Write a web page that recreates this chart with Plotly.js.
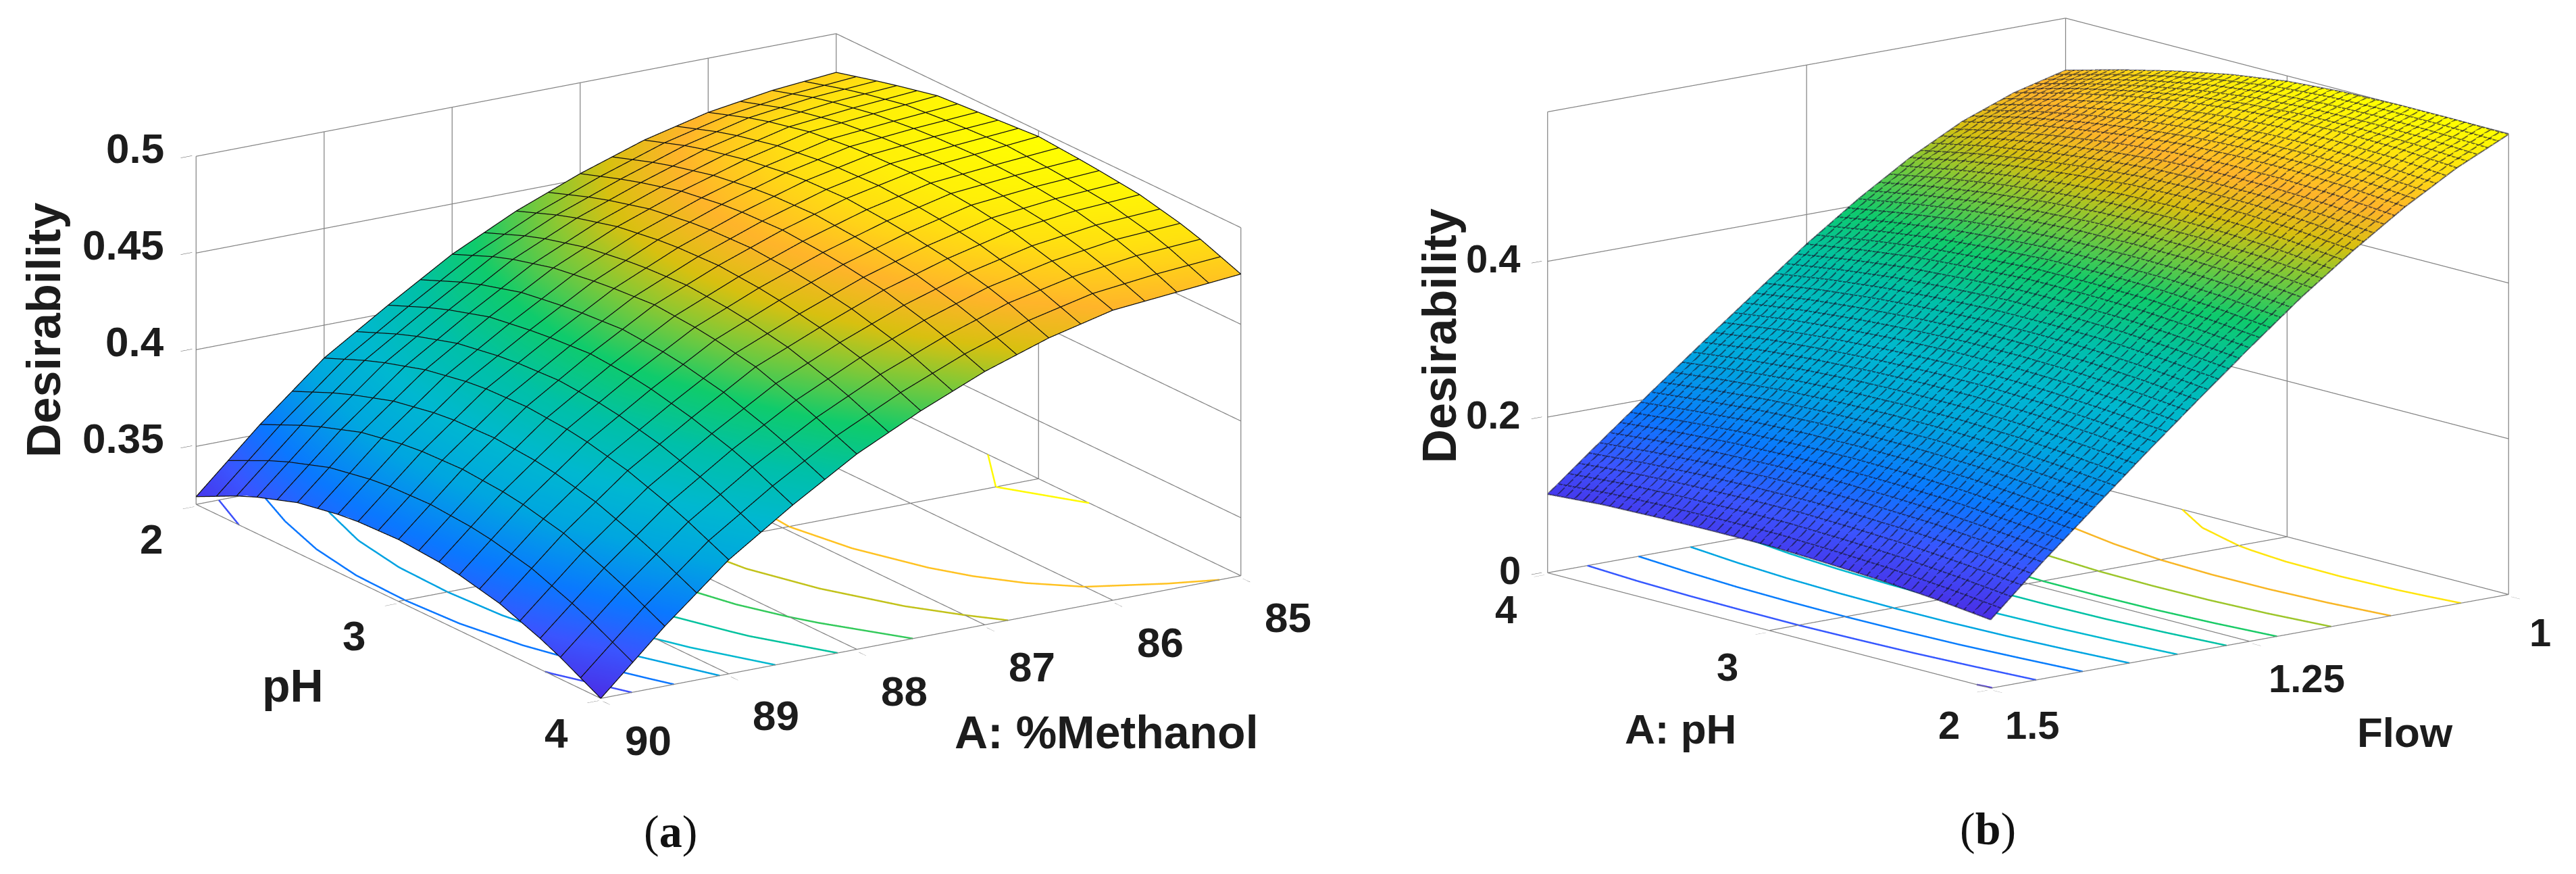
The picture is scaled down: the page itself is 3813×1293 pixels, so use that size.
<!DOCTYPE html>
<html>
<head>
<meta charset="utf-8">
<script src="https://cdn.plot.ly/plotly-3.0.1.min.js"></script>
<style>html,body{margin:0;padding:0;background:#fff}#chart{width:3813px;height:1293px}</style>
</head>
<body>
<div id="chart"></div>
<script>
// panel (a): desirability, rows = %methanol, columns = pH
let methanol_a = [85, 85.5, 86, 86.5, 87, 87.5, 88, 88.5, 89, 89.5, 90];
let ph_a = [2, 2.25, 2.5, 2.75, 3, 3.25, 3.5, 3.75, 4];
let desirability_a = [
	[.480, .487, .493, .495, .497, .495, .492, .486, .476],
	[.477, .485, .490, .493, .494, .493, .490, .484, .473],
	[.472, .481, .487, .490, .491, .490, .486, .479, .470],
	[.464, .473, .479, .483, .484, .482, .478, .472, .462],
	[.453, .462, .469, .473, .474, .472, .468, .461, .451],
	[.440, .450, .457, .461, .462, .460, .455, .448, .437],
	[.424, .435, .442, .446, .448, .446, .441, .432, .421],
	[.404, .415, .423, .427, .429, .427, .421, .413, .401],
	[.383, .394, .402, .407, .408, .406, .400, .391, .379],
	[.355, .367, .376, .381, .382, .380, .374, .364, .351],
	[.324, .337, .346, .351, .352, .350, .344, .334, .320]
];
let methanol_ticks = [85, 86, 87, 88, 89, 90];
let ph_ticks_a = [2, 3, 4];
let z_ticks_a = [0.32, 0.35, 0.4, 0.45, 0.5];
let z_labels_a = ['', '0.35', '0.4', '0.45', '0.5'];
let levels_a = [0.335, 0.355, 0.375, 0.395, 0.415, 0.435, 0.455, 0.475, 0.495];

// panel (b): desirability, rows = flow, columns = pH
let flow_b = [1, 1.05, 1.1, 1.15, 1.2, 1.25, 1.3, 1.35, 1.4, 1.45, 1.5];
let ph_b = [2, 2.25, 2.5, 2.75, 3, 3.25, 3.5, 3.75, 4];
let desirability_b = [
	[.591, .592, .592, .590, .585, .575, .561, .544, .525],
	[.560, .565, .567, .566, .561, .553, .541, .526, .508],
	[.522, .528, .531, .531, .528, .521, .511, .499, .483],
	[.478, .485, .489, .490, .488, .482, .474, .463, .449],
	[.430, .437, .441, .442, .441, .437, .430, .420, .408],
	[.377, .384, .389, .391, .391, .387, .382, .373, .362],
	[.322, .329, .334, .336, .336, .333, .328, .321, .311],
	[.266, .273, .278, .281, .281, .279, .275, .269, .260],
	[.208, .215, .221, .224, .225, .224, .221, .215, .208],
	[.150, .157, .163, .166, .168, .167, .165, .161, .155],
	[.088, .096, .102, .106, .109, .109, .108, .106, .101]
];
let flow_ticks = [1, 1.25, 1.5];
let ph_ticks_b = [2, 3, 4];
let z_ticks_b = [0, 0.2, 0.4, 0.592];
let z_labels_b = ['0', '0.2', '0.4', ''];
let levels_b = [0.09, 0.1425, 0.195, 0.2475, 0.3, 0.3525, 0.405, 0.4575, 0.51, 0.5625];

let colors = [
	[0, '#4a2fe6'], [0.1, '#3a55ff'], [0.2, '#0a78ff'], [0.32, '#00a6e0'], [0.42, '#00b8d0'], [0.52, '#00c0a8'],
	[0.62, '#0fcb6c'], [0.72, '#8cc832'], [0.78, '#d8c010'], [0.85, '#ffb42a'], [0.93, '#ffe010'], [1, '#ffff00']
];

let flat = {ambient: 1, diffuse: 0, specular: 0, roughness: 1, fresnel: 0};

let axis = function(range, ticks, labels){
	// only labelled ticks get a tick mark, the box corners stay clean
	let text = labels || ticks.map(String);
	return {
		range: range,
		tickmode: 'array',
		tickvals: ticks.filter(function(_, i){ return text[i] !== ''; }),
		ticktext: text.filter(function(t){ return t !== ''; }),
		showticklabels: false,
		ticks: 'outside',
		ticklen: 20,
		tickcolor: '#555',
		showgrid: false,
		showline: false,
		zeroline: false,
		showbackground: false,
		showspikes: false,
		title: {text: ''}
	};
};

// small helper: text tied to a point of the scene, then pushed off it
let label = function(x, y, z, text, dx, dy, size, bold, angle, anchor){
	return {
		x: x, y: y, z: z,
		text: bold ? '<b>' + text + '</b>' : text,
		showarrow: false,
		xshift: dx, yshift: dy,
		xanchor: anchor || 'center',
		textangle: angle || 0,
		font: {family: 'Liberation Sans, Arial, sans-serif', size: size, color: '#1c1c1c'}
	};
};

let notes_a = [];
ph_ticks_a.forEach(function(p){ notes_a.push(label(90, p, 0.32, String(p), -66, -51, 62, true)); });
methanol_ticks.forEach(function(m){ notes_a.push(label(m, 4, 0.32, String(m), 70, -62, 62, true)); });
z_labels_a.forEach(function(t, i){
	if(t) notes_a.push(label(90, 2, z_ticks_a[i], t, -45, 12, 62, true, 0, 'right'));
});
notes_a.push(label(90, 3, 0.32, 'pH', -156, -124, 68, true));
notes_a.push(label(87.5, 4, 0.32, 'A: %Methanol', 275, -141, 68, true));
notes_a.push(label(90, 2, 0.41, 'Desirability', -226, 0, 70, true, -90));

let notes_b = [];
ph_ticks_b.forEach(function(p){ notes_b.push(label(p, 1.5, 0, String(p), -62, -54, 58, true)); });
notes_b.push(label(2, 1.5, 0, '1.5', 62, -54, 58, true));
notes_b.push(label(2, 1.25, 0, '1.25', 85, -55, 58, true));
notes_b.push(label(2, 1, 0, '1', 47, -56, 58, true));
z_labels_b.forEach(function(t, i){
	if(t) notes_b.push(label(4, 1.5, z_ticks_b[i], t, -38, 4, 58, true, 0, 'right'));
});
notes_b.push(label(3, 1.5, 0, 'A: pH', -131, -146, 62, true));
notes_b.push(label(2, 1.25, 0, 'Flow', 230, -135, 62, true));
notes_b.push(label(4, 1.5, 0.3, 'Desirability', -160, 5, 70, true, -90));

// even steps between two values, for the mesh lines
let steps = function(from, to, n){
	let out = [];
	for(let i = 0; i <= n; i++) out.push(from + (to - from) * i / n);
	return out;
};

// table value at any row/column position
let valueAt = function(rows, cols, table, r, c){
	let i = 0, j = 0;
	while(i < rows.length - 2 && rows[i + 1] <= r) i++;
	while(j < cols.length - 2 && cols[j + 1] <= c) j++;
	let a = (r - rows[i]) / (rows[i + 1] - rows[i]);
	let b = (c - cols[j]) / (cols[j + 1] - cols[j]);
	return table[i][j] * (1 - a) * (1 - b) + table[i + 1][j] * a * (1 - b) +
		table[i][j + 1] * (1 - a) * b + table[i + 1][j + 1] * a * b;
};

// gl contour lines stay 1px wide here, so the mesh is drawn as 3d lines,
// nudged toward the camera (lift) so the surface does not swallow them
let meshTrace = function(scene, rows, cols, table, rowLines, colLines, swap, lift, color, width, opacity){
	let x = [], y = [], z = [];
	let add = function(r, c){
		x.push((swap ? c : r) + lift[0]);
		y.push((swap ? r : c) + lift[1]);
		z.push(valueAt(rows, cols, table, r, c) + lift[2]);
	};
	let gap = function(){ x.push(null); y.push(null); z.push(null); };
	rowLines.forEach(function(r){
		colLines.forEach(function(c){ add(r, c); });
		gap();
	});
	colLines.forEach(function(c){
		rowLines.forEach(function(r){ add(r, c); });
		gap();
	});
	return {type: 'scatter3d', scene: scene, mode: 'lines', x: x, y: y, z: z, opacity: opacity,
		line: {color: color, width: width}, hoverinfo: 'skip', showlegend: false};
};

// level line of the table, projected on the floor of the box
let contourTrace = function(scene, rows, cols, table, level, floor, swap, cmin, cmax){
	let x = [], y = [], z = [];
	let point = function(r, c){
		x.push(swap ? c : r);
		y.push(swap ? r : c);
		z.push(floor);
	};
	let differs = function(v0, v1){
		return (v0 >= level) !== (v1 >= level);
	};
	let cross = function(v0, v1, p0, p1){
		return p0 + (p1 - p0) * (level - v0) / (v1 - v0);
	};
	for(let i = 0; i < rows.length - 1; i++){
		for(let j = 0; j < cols.length - 1; j++){
			let a = table[i][j], b = table[i][j + 1], c = table[i + 1][j + 1], d = table[i + 1][j];
			let hits = [];
			if(differs(a, b)) hits.push([rows[i], cross(a, b, cols[j], cols[j + 1])]);
			if(differs(b, c)) hits.push([cross(b, c, rows[i], rows[i + 1]), cols[j + 1]]);
			if(differs(c, d)) hits.push([rows[i + 1], cross(d, c, cols[j], cols[j + 1])]);
			if(differs(d, a)) hits.push([cross(a, d, rows[i], rows[i + 1]), cols[j]]);
			for(let k = 0; k + 1 < hits.length; k += 2){
				point(hits[k][0], hits[k][1]);
				point(hits[k + 1][0], hits[k + 1][1]);
				x.push(null); y.push(null); z.push(null);
			}
		}
	}
	return {type: 'scatter3d', scene: scene, mode: 'lines', x: x, y: y, z: z,
		line: {color: x.map(function(){ return level; }), colorscale: colors, cmin: cmin, cmax: cmax, width: 5},
		hoverinfo: 'skip', showlegend: false};
};

// back walls and floor of the box, one line per tick
let wallTrace = function(scene, xt, yt, zt, backX, backY){
	let x = [], y = [], z = [];
	let seg = function(x0, y0, z0, x1, y1, z1){
		x.push(x0, x1, null); y.push(y0, y1, null); z.push(z0, z1, null);
	};
	let x0 = xt[0], x1 = xt[xt.length - 1], y0 = yt[0], y1 = yt[yt.length - 1], z0 = zt[0], z1 = zt[zt.length - 1];
	xt.forEach(function(v){
		seg(v, backY, z0, v, backY, z1);
		seg(v, y0, z0, v, y1, z0);
	});
	yt.forEach(function(v){
		seg(backX, v, z0, backX, v, z1);
		seg(x0, v, z0, x1, v, z0);
	});
	zt.forEach(function(v){
		seg(x0, backY, v, x1, backY, v);
		seg(backX, y0, v, backX, y1, v);
	});
	return {type: 'scatter3d', scene: scene, mode: 'lines', x: x, y: y, z: z,
		line: {color: '#858585', width: 2.5}, hoverinfo: 'skip', showlegend: false};
};

let trace_a = {
	type: 'surface',
	scene: 'scene',
	x: methanol_a,
	y: ph_a,
	z: ph_a.map(function(_, j){ return methanol_a.map(function(_, i){ return desirability_a[i][j]; }); }),
	colorscale: colors,
	cmin: 0.32,
	cmax: 0.497,
	showscale: false,
	lighting: flat,
	hoverinfo: 'skip'
};

let trace_b = {
	type: 'surface',
	scene: 'scene2',
	x: ph_b,
	y: flow_b,
	z: desirability_b,
	colorscale: colors,
	cmin: 0.088,
	cmax: 0.592,
	showscale: false,
	lighting: flat,
	hoverinfo: 'skip'
};

let traces = [trace_a, trace_b];
traces.push(wallTrace('scene', methanol_ticks, ph_ticks_a, z_ticks_a, 85, 2));
traces.push(wallTrace('scene2', ph_ticks_b, flow_ticks, z_ticks_b, 4, 1));
traces.push(meshTrace('scene', methanol_a, ph_a, desirability_a, steps(85, 90, 20), steps(2, 4, 20), false,
	[0.0123, 0.0078, 0.00054], '#101010', 2.5, 1));
traces.push(meshTrace('scene2', flow_b, ph_b, desirability_b, steps(1, 1.5, 50), steps(2, 4, 50), true,
	[-0.0092, 0.00196, 0.00115], '#14142a', 4, 0.6));
levels_a.forEach(function(l){
	traces.push(contourTrace('scene', methanol_a, ph_a, desirability_a, l, 0.32, false, 0.32, 0.497));
});
levels_b.forEach(function(l){
	traces.push(contourTrace('scene2', flow_b, ph_b, desirability_b, l, 0, true, 0.088, 0.592));
});

let layout = {
	width: 3813,
	height: 1293,
	margin: {l: 0, r: 0, t: 0, b: 0},
	paper_bgcolor: '#ffffff',
	showlegend: false,
	scene: {
		domain: {x: [0, 2127 / 3813], y: [1 - 1083 / 1293, 1]},
		aspectmode: 'manual',
		aspectratio: {x: 2.0824, y: 2.0907, z: 1.009},
		camera: {
			projection: {type: 'orthographic'},
			center: {x: 0, y: 0, z: 0},
			up: {x: 0, y: 0, z: 1},
			eye: {x: 1.53, y: 2.42, z: 0.91}
		},
		// ranges run a hair past the ticks so border lines are not clipped
		xaxis: axis([84.985, 90.015], methanol_ticks),
		yaxis: axis([1.99, 4.01], ph_ticks_a),
		zaxis: axis([0.319, 0.501], z_ticks_a, z_labels_a),
		annotations: notes_a
	},
	scene2: {
		domain: {x: [2191 / 3813, 1], y: [1 - 1045 / 1293, 1]},
		aspectmode: 'manual',
		aspectratio: {x: 1.984, y: 1.933, z: 1.346},
		camera: {
			projection: {type: 'orthographic'},
			center: {x: 0, y: 0, z: 0},
			up: {x: 0, y: 0, z: 1},
			eye: {x: -2.25, y: 1.875, z: 0.651}
		},
		xaxis: axis([1.988, 4.012], ph_ticks_b),
		yaxis: axis([0.997, 1.503], flow_ticks),
		zaxis: axis([-0.002, 0.594], z_ticks_b, z_labels_b),
		annotations: notes_b
	},
	annotations: [
		{xref: 'paper', yref: 'paper', x: 992 / 3813, y: 1 - 1230 / 1293, xanchor: 'center', yanchor: 'middle',
			text: '(<b>a</b>)', showarrow: false, font: {family: 'Liberation Serif, serif', size: 68, color: '#111'}},
		{xref: 'paper', yref: 'paper', x: 2942 / 3813, y: 1 - 1226 / 1293, xanchor: 'center', yanchor: 'middle',
			text: '(<b>b</b>)', showarrow: false, font: {family: 'Liberation Serif, serif', size: 68, color: '#111'}}
	]
};

Plotly.newPlot('chart', traces, layout, {displayModeBar: false});
</script>
</body>
</html>
